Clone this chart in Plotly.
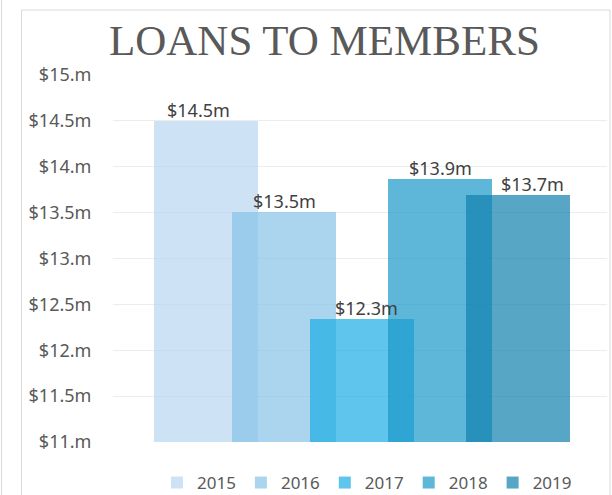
import plotly.graph_objects as go

# ---- data ----
years = ["2015", "2016", "2017", "2018", "2019"]
loans = [14.5, 13.51, 12.34, 13.87, 13.69]
value_labels = ["$14.5m", "$13.5m", "$12.3m", "$13.9m", "$13.7m"]
tick_vals = [11, 11.5, 12, 12.5, 13, 13.5, 14, 14.5, 15]
tick_text = ["$11.m", "$11.5m", "$12.m", "$12.5m", "$13.m", "$13.5m", "$14.m", "$14.5m", "$15.m"]

# ---- style ----
colors = ["rgba(184,214,241,0.7)", "rgba(136,195,232,0.7)", "rgba(28,172,228,0.7)",
          "rgba(25,151,201,0.7)", "rgba(16,128,174,0.7)"]
label_xshift = [-8, 0, 4, 0, 14]
W, H = 612, 495
L, R, T, B = 113, 607, 75, 442
unit_px = 78.0          # distance between bar centres
first_center = 206.0
bar_w = 104.0 / unit_px

def px_x(px):
    return (px - L) / (R - L)

def px_y(py):
    return (B - py) / (B - T)

fig = go.Figure()
for i, (yr, v, c) in enumerate(zip(years, loans, colors)):
    fig.add_trace(go.Bar(x=[i], y=[v], base=0, name=yr, width=bar_w,
                         marker=dict(color=c, line=dict(width=0))))

for i, (v, t) in enumerate(zip(loans, value_labels)):
    fig.add_annotation(x=i, y=v, text=t, showarrow=False, xanchor="center",
                       yanchor="bottom", xshift=label_xshift[i], yshift=-3,
                       font=dict(family="Noto Sans", size=18, color="#404040"))

fig.add_annotation(xref="paper", yref="paper", x=px_x(324.5), y=px_y(40.5),
                   text="LOANS TO MEMBERS", showarrow=False, xanchor="center",
                   yanchor="middle",
                   font=dict(family="Liberation Serif", size=43, color="#595959"))

# chart frame
fig.add_shape(type="rect", xref="paper", yref="paper",
              x0=px_x(21.5), x1=px_x(610), y0=px_y(520), y1=px_y(10),
              line=dict(color="#d9d9d9", width=1), fillcolor="rgba(0,0,0,0)", layer="below")
fig.add_shape(type="line", xref="paper", yref="paper",
              x0=px_x(1.5), x1=px_x(1.5), y0=px_y(520), y1=px_y(-10),
              line=dict(color="#d9d9d9", width=1))

x_left = (L - first_center) / unit_px
x_right = (R - first_center) / unit_px

fig.update_layout(
    width=W, height=H,
    margin=dict(l=L, r=W - R, t=T, b=H - B, pad=0, autoexpand=False),
    barmode="overlay", bargap=0,
    paper_bgcolor="white", plot_bgcolor="white",
    showlegend=True,
    legend=dict(orientation="h", xref="container", yref="container",
                x=367 / W, xanchor="center", y=1 - 483 / H, yanchor="middle",
                font=dict(family="Noto Sans", size=17, color="#595959"),
                itemclick=False, traceorder="normal", bgcolor="rgba(0,0,0,0)"),
    xaxis=dict(range=[x_left, x_right], visible=False, fixedrange=True, automargin=False),
    yaxis=dict(range=[11, 15], tickvals=tick_vals, ticktext=tick_text, automargin=False,
               showgrid=True, gridcolor="#ececec", gridwidth=1, zeroline=False,
               showline=False, ticks="outside", ticklen=17, tickcolor="rgba(0,0,0,0)",
               tickfont=dict(family="Noto Sans", size=18, color="#595959")),
)

fig.write_html("out.html", config={"displayModeBar": False},
               post_script="document.body.style.margin='0';document.body.style.overflow='hidden';")
